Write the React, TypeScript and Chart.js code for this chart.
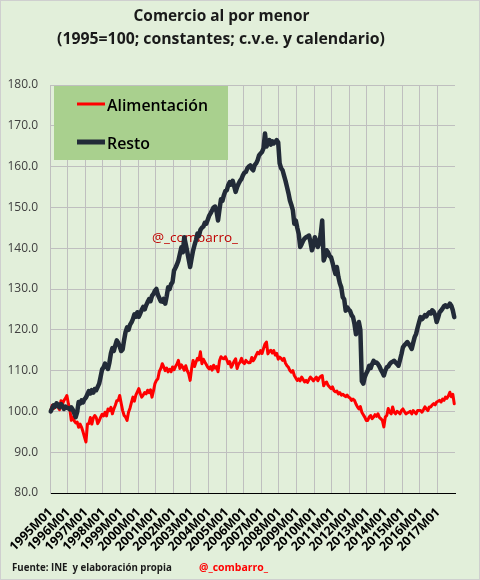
import React, { useEffect, useRef } from 'react';
import { Chart, registerables } from 'chart.js';

Chart.register(...registerables);

const TITLE_LINES = ['Comercio al por menor', '(1995=100; constantes; c.v.e. y calendario)'];
const YEARS = [1995, 1996, 1997, 1998, 1999, 2000, 2001, 2002, 2003, 2004, 2005, 2006, 2007, 2008, 2009, 2010, 2011, 2012, 2013, 2014, 2015, 2016, 2017];
const MONTHS = ['01', '02', '03', '04', '05', '06', '07', '08', '09', '10', '11', '12'];
const SERIES_NAMES = ['Alimentación', 'Resto'];
const Y_TICKS = { min: 80, max: 180, step: 10 };
const SOURCE_TEXT = 'Fuente: INE  y elaboración propia';
const HANDLE_TEXT = '@_combarro_';

// Monthly index, 1995M01 .. 2017M12 (one row per year)
const ALIMENTACION = [
  100.2, 101.5, 100.7, 101.2, 102.0, 101.0, 100.4, 102.6, 101.8, 102.7, 103.2, 103.9,
  101.9, 100.5, 97.8, 98.6, 97.7, 97.2, 97.4, 96.1, 96.9, 96.1, 95.0, 93.7,
  92.5, 96.9, 97.0, 98.5, 96.9, 98.4, 99.0, 98.5, 97.0, 97.7, 98.6, 99.3,
  98.9, 99.8, 98.9, 100.6, 100.2, 101.0, 99.4, 100.6, 101.5, 102.6, 102.7, 103.9,
  102.0, 100.2, 99.0, 98.6, 97.8, 99.8, 100.8, 102.2, 103.5, 102.5, 104.0, 104.8,
  105.6, 104.4, 103.5, 104.0, 104.6, 104.3, 105.2, 104.6, 105.3, 103.5, 105.0, 106.8,
  107.6, 108.0, 109.8, 110.5, 111.7, 110.9, 110.0, 110.6, 109.7, 110.3, 109.7, 110.9,
  110.2, 111.0, 111.6, 112.5, 110.5, 111.4, 110.8, 110.1, 111.2, 110.0, 109.2, 107.6,
  110.5, 112.5, 111.0, 112.1, 113.0, 112.6, 114.6, 111.7, 112.8, 112.1, 111.5, 110.8,
  110.4, 111.0, 110.1, 111.3, 110.6, 111.0, 109.7, 112.4, 113.4, 113.0, 112.9, 113.4,
  112.6, 111.7, 112.2, 110.8, 111.5, 112.3, 112.9, 110.5, 111.6, 112.1, 113.0, 112.0,
  111.7, 112.5, 112.1, 111.9, 112.0, 113.2, 112.4, 113.0, 113.8, 114.5, 114.1, 114.9,
  114.2, 115.4, 116.5, 117.0, 114.1, 114.8, 115.0, 114.3, 114.9, 113.8, 114.2, 112.8,
  113.3, 113.0, 112.5, 113.0, 111.8, 111.2, 110.8, 110.0, 109.6, 110.0, 108.8, 108.2,
  107.6, 108.0, 107.5, 108.4, 107.8, 107.2, 107.6, 107.1, 107.8, 108.4, 108.0, 107.5,
  108.0, 108.4, 107.5, 108.2, 108.6, 108.8, 106.3, 107.0, 107.2, 106.4, 106.0, 105.6,
  106.0, 105.1, 104.8, 105.0, 104.3, 104.6, 104.0, 104.2, 103.9, 103.6, 104.0, 103.5,
  103.3, 102.7, 103.0, 102.7, 101.8, 101.1, 100.6, 101.2, 99.8, 99.2, 98.6, 97.8,
  97.8, 98.6, 99.0, 98.2, 98.6, 99.2, 98.8, 99.4, 98.5, 98.2, 97.8, 96.2,
  98.6, 99.0, 100.7, 99.8, 99.4, 101.1, 99.8, 99.4, 100.0, 99.8, 99.4, 100.2,
  100.6, 100.0, 99.4, 99.6, 99.8, 100.0, 99.4, 100.2, 99.8, 99.4, 100.2, 100.2,
  100.2, 99.8, 100.4, 101.1, 100.6, 100.2, 101.1, 101.1, 101.6, 101.9, 101.6, 102.3,
  102.5, 102.7, 102.3, 103.0, 102.7, 103.5, 103.2, 103.8, 104.7, 103.6, 104.2, 101.9,
];

const RESTO = [
  100.0, 100.8, 101.5, 101.2, 102.0, 101.6, 101.0, 101.8, 101.3, 100.6, 101.2, 100.9,
  100.8, 100.5, 101.0, 100.4, 99.5, 98.6, 99.8, 102.3, 101.9, 102.7, 102.2, 103.0,
  103.4, 104.2, 105.0, 104.4, 105.2, 104.6, 105.5, 105.2, 106.0, 106.8, 108.5, 110.3,
  110.8, 111.7, 111.2, 110.4, 112.0, 114.2, 115.5, 114.8, 116.2, 117.4, 116.8, 115.9,
  114.8, 115.2, 117.5, 119.5, 120.6, 120.0, 121.2, 121.8, 122.6, 123.8, 123.2, 124.3,
  123.2, 124.0, 124.9, 125.6, 125.0, 126.0, 126.8, 127.5, 127.0, 128.3, 128.8, 129.6,
  130.0, 128.6, 127.8, 127.0, 126.9, 127.6, 126.4, 128.2, 130.4, 130.0, 131.2, 131.7,
  134.5, 135.2, 136.0, 137.0, 138.6, 140.2, 139.0, 142.7, 141.0, 139.2, 137.3, 135.4,
  137.5, 139.4, 140.8, 142.0, 143.6, 143.0, 144.5, 145.0, 145.3, 146.2, 146.0, 147.0,
  148.0, 148.6, 149.3, 150.0, 150.2, 149.0, 146.8, 149.5, 152.0, 151.6, 153.0, 154.0,
  154.2, 155.5, 156.2, 155.6, 156.5, 155.2, 153.8, 155.0, 155.8, 156.5, 157.0, 157.9,
  158.5, 158.7, 159.6, 160.0, 160.3, 159.5, 159.1, 160.4, 160.8, 161.6, 162.8, 163.2,
  163.6, 164.5, 168.1, 164.9, 165.8, 166.5, 165.4, 166.2, 165.7, 166.0, 166.5, 165.9,
  160.8, 159.6, 159.1, 157.8, 156.5, 155.0, 153.5, 151.7, 150.6, 149.3, 146.0, 146.8,
  145.0, 143.5, 140.3, 141.0, 141.8, 142.4, 142.7, 142.9, 143.1, 141.5, 139.5, 140.6,
  142.7, 141.6, 140.3, 141.2, 143.5, 146.8, 137.0, 138.0, 139.5, 139.0, 138.1, 137.8,
  136.5, 135.0, 133.7, 135.4, 133.0, 131.4, 130.4, 128.0, 127.5, 124.7, 125.5, 125.0,
  124.6, 123.6, 123.1, 121.4, 118.9, 120.5, 121.9, 120.0, 107.4, 106.8, 108.4, 109.3,
  110.0, 111.2, 110.6, 111.6, 112.4, 111.9, 112.0, 111.6, 111.0, 110.2, 109.6, 108.8,
  110.0, 110.8, 111.0, 111.6, 112.0, 112.2, 112.4, 112.0, 111.6, 111.2, 112.6, 114.0,
  115.7, 116.2, 116.6, 117.0, 116.5, 116.0, 115.3, 116.8, 118.2, 119.0, 120.5, 121.8,
  123.1, 122.6, 123.0, 123.6, 123.3, 123.9, 124.3, 124.0, 124.8, 124.4, 123.6, 121.9,
  123.0, 124.3, 124.7, 125.2, 125.8, 126.0, 125.6, 125.8, 126.4, 125.9, 124.8, 123.1,
];

const LABELS: string[] = [];
YEARS.forEach((y) => MONTHS.forEach((m) => LABELS.push(`${y}M${m}`)));

const COLORS = {
  bg: '#E2EFDA',
  frame: '#CFCFCF',
  grid: '#BFBFBF',
  red: '#FF0000',
  dark: '#222B38',
  legendFill: '#A9D08E',
  handle: '#C00000',
  text: '#1A1A1A',
  tick: '#404040',
};

const FONT = '"Open Sans", "DejaVu Sans", sans-serif';

function fitFont(ctx: CanvasRenderingContext2D, text: string, weight: string, targetW: number) {
  ctx.font = `${weight} 20px ${FONT}`;
  const w = ctx.measureText(text).width;
  const size = (20 * targetW) / w;
  ctx.font = `${weight} ${size.toFixed(2)}px ${FONT}`;
}

const decorPlugin = {
  id: 'decor',
  beforeDraw(chart: any) {
    const { ctx, width, height } = chart;
    ctx.save();
    ctx.fillStyle = COLORS.bg;
    ctx.fillRect(0, 0, width, height);
    ctx.strokeStyle = COLORS.frame;
    ctx.lineWidth = 1;
    ctx.strokeRect(0.5, 0.5, width - 1, height - 1);
    ctx.restore();
  },
  beforeDatasetsDraw(chart: any) {
    const { ctx } = chart;
    const ds = chart.data.datasets;
    ctx.save();
    // legend box
    ctx.fillStyle = COLORS.legendFill;
    ctx.fillRect(54, 86, 174, 74);
    const rows = [104, 142];
    ds.forEach((d: any, i: number) => {
      ctx.strokeStyle = d.borderColor;
      ctx.lineWidth = i === 0 ? 3 : 5;
      ctx.beginPath();
      ctx.moveTo(77, rows[i]);
      ctx.lineTo(105, rows[i]);
      ctx.stroke();
      ctx.fillStyle = '#000000';
      fitFont(ctx, d.label, '600', i === 0 ? 101 : 43);
      ctx.textAlign = 'left';
      ctx.textBaseline = 'alphabetic';
      ctx.fillText(d.label, 107, rows[i] + 7);
    });
    // watermark
    ctx.fillStyle = COLORS.handle;
    fitFont(ctx, HANDLE_TEXT, '400', 86);
    ctx.textAlign = 'left';
    ctx.fillText(HANDLE_TEXT, 152, 242);
    ctx.restore();
  },
  afterDraw(chart: any) {
    const { ctx } = chart;
    ctx.save();
    ctx.fillStyle = COLORS.text;
    ctx.textAlign = 'center';
    ctx.textBaseline = 'alphabetic';
    fitFont(ctx, TITLE_LINES[0], '700', 176);
    ctx.fillText(TITLE_LINES[0], 221.5, 21);
    fitFont(ctx, TITLE_LINES[1], '700', 328);
    ctx.fillText(TITLE_LINES[1], 221, 43.5);
    // footer
    ctx.textAlign = 'left';
    fitFont(ctx, SOURCE_TEXT, '700', 160);
    ctx.fillText(SOURCE_TEXT, 12, 571);
    ctx.fillStyle = COLORS.red;
    fitFont(ctx, HANDLE_TEXT, '700', 69);
    ctx.fillText(HANDLE_TEXT, 199, 571);
    ctx.restore();
  },
};

export default function App() {
  const ref = useRef<HTMLCanvasElement | null>(null);

  useEffect(() => {
    document.body.style.margin = '0';
    const canvas = ref.current;
    if (!canvas) return;
    const chart = new Chart(canvas, {
      type: 'line',
      data: {
        labels: LABELS,
        datasets: [
          {
            label: SERIES_NAMES[0],
            data: ALIMENTACION,
            borderColor: COLORS.red,
            backgroundColor: COLORS.red,
            borderWidth: 3,
            borderJoinStyle: 'round',
            borderCapStyle: 'round',
            pointRadius: 0,
            tension: 0,
            order: 1,
          },
          {
            label: SERIES_NAMES[1],
            data: RESTO,
            borderColor: COLORS.dark,
            backgroundColor: COLORS.dark,
            borderWidth: 4.5,
            borderJoinStyle: 'round',
            borderCapStyle: 'round',
            pointRadius: 0,
            tension: 0,
            order: 0,
          },
        ],
      },
      options: {
        responsive: false,
        animation: false,
        devicePixelRatio: 1,
        layout: { padding: { top: 85, right: 25, left: 0, bottom: 0 } },
        plugins: {
          legend: { display: false },
          title: { display: false },
          tooltip: { enabled: false },
        },
        scales: {
          x: {
            type: 'category',
            offset: true,
            grid: {
              offset: true,
              drawTicks: false,
              color: (c: any) => (c.index % 12 === 0 ? COLORS.grid : 'rgba(0,0,0,0)'),
              lineWidth: 1,
            },
            border: { display: true, color: '#000000', width: 1 },
            ticks: {
              autoSkip: false,
              minRotation: 45,
              maxRotation: 45,
              padding: 12,
              color: '#000000',
              font: { family: FONT, size: 12.5, weight: '700' },
              callback: (_v: any, i: number) => (i % 12 === 0 ? LABELS[i] : ''),
            },
            afterFit: (s: any) => {
              s.height = 87;
            },
          },
          y: {
            min: Y_TICKS.min,
            max: Y_TICKS.max,
            grid: { color: COLORS.grid, drawTicks: false, lineWidth: 1 },
            border: { display: true, color: COLORS.grid },
            ticks: {
              stepSize: Y_TICKS.step,
              padding: 12,
              color: COLORS.tick,
              font: { family: FONT, size: 12 },
              callback: (v: any) => Number(v).toFixed(1),
            },
            afterFit: (s: any) => {
              s.width = 50;
            },
          },
        },
      },
      plugins: [decorPlugin],
    });
    return () => chart.destroy();
  }, []);

  return (
    <div style={{ width: 480, height: 580 }}>
      <canvas ref={ref} width={480} height={580} style={{ display: 'block' }} />
    </div>
  );
}
